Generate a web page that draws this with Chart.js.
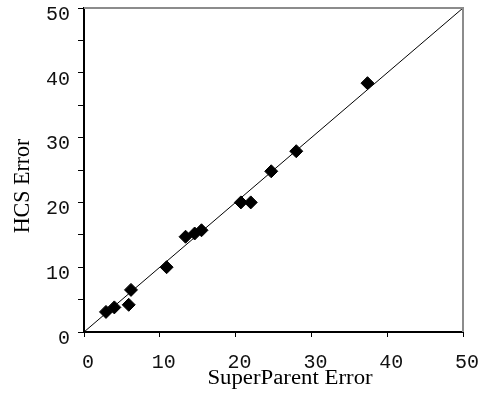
<!DOCTYPE html>
<html>
<head>
<meta charset="utf-8">
<script src="https://cdn.jsdelivr.net/npm/chart.js@4"></script>
<style>
  html, body { margin: 0; padding: 0; background: #fff; }
  #wrap { width: 484px; height: 395px; }
</style>
</head>
<body>
<div id="wrap"><canvas id="errChart" width="484" height="395"></canvas></div>
<script>
// valores
var superParentError = [2.9, 4.0, 5.9, 6.2, 10.9, 13.4, 14.6, 15.5, 20.7, 22.0, 24.7, 28.0, 37.4];
var hcsError         = [3.1, 3.8, 4.2, 6.5, 10.0, 14.7, 15.2, 15.7, 20.0, 20.0, 24.8, 27.9, 38.4];
var diagonal = [0, 50];
var xTitle = 'SuperParent Error';
var yTitle = 'HCS Error';

var puntos = superParentError.map(function(v, i) { return { x: v, y: hcsError[i] }; });
var linea = diagonal.map(function(v) { return { x: v, y: v }; });

// borde gris arriba/derecha y titulos de ejes
var marcoPlugin = {
    id: 'marco',
    afterDraw: function(chart) {
        var ctx = chart.ctx, a = chart.chartArea;
        ctx.save();
        ctx.strokeStyle = '#8c8c8c';
        ctx.lineWidth = 2;
        ctx.beginPath();
        ctx.moveTo(a.left, a.top);
        ctx.lineTo(a.right, a.top);
        ctx.lineTo(a.right, a.bottom);
        ctx.stroke();

        ctx.fillStyle = '#000';
        ctx.font = '20px "Liberation Serif", "Times New Roman", serif';
        ctx.textAlign = 'center';
        ctx.textBaseline = 'middle';
        ctx.save();
        ctx.translate(290, 379);
        ctx.scale(1.14, 1);
        ctx.fillText(xTitle, 0, 0);
        ctx.restore();

        ctx.translate(23, 186);
        ctx.scale(1.15, 1.1);
        ctx.rotate(-Math.PI / 2);
        ctx.fillText(yTitle, 0, 0);
        ctx.restore();
    }
};

var ctx = document.getElementById('errChart').getContext('2d');
var errChart = new Chart(ctx, {
    data: {
        datasets: [{
            type: 'scatter',
            data: puntos,
            pointStyle: 'rectRot',
            pointRadius: 6.5,
            pointHoverRadius: 6.5,
            backgroundColor: '#000',
            borderColor: '#000',
            borderWidth: 1,
            order: 0
        }, {
            type: 'line',
            data: linea,
            borderColor: '#000',
            borderWidth: 1,
            pointRadius: 0,
            fill: false,
            order: 1
        }]
    },
    options: {
        responsive: false,
        animation: false,
        layout: { padding: { top: 8, right: 21, bottom: 0, left: 0 } },
        plugins: { legend: { display: false }, tooltip: { enabled: false } },
        scales: {
            x: {
                type: 'linear',
                min: 0, max: 50,
                border: { display: true, color: '#000', width: 2 },
                grid: { drawOnChartArea: false, drawTicks: true, tickLength: 5, color: '#000', lineWidth: 1 },
                ticks: {
                    stepSize: 10,
                    color: '#111',
                    padding: 13.5,
                    labelOffset: 4,
                    maxRotation: 0,
                    font: { family: '"Liberation Mono", "Courier New", monospace', size: 20 }
                },
                afterFit: function(s) { s.height = 63; s.paddingLeft = 0; s.paddingRight = 0; }
            },
            y: {
                type: 'linear',
                min: 0, max: 50,
                border: { display: true, color: '#000', width: 2 },
                grid: { drawOnChartArea: false, drawTicks: true, tickLength: 6, color: '#000', lineWidth: 1 },
                ticks: {
                    stepSize: 5,
                    autoSkip: false,
                    color: '#111',
                    padding: 8,
                    labelOffset: 6.5,
                    font: { family: '"Liberation Mono", "Courier New", monospace', size: 20 },
                    callback: function(v) { return v % 10 === 0 ? v : ''; }
                },
                afterFit: function(s) { s.width = 84; s.paddingTop = 0; s.paddingBottom = 0; }
            }
        }
    },
    plugins: [marcoPlugin]
});
</script>
</body>
</html>
